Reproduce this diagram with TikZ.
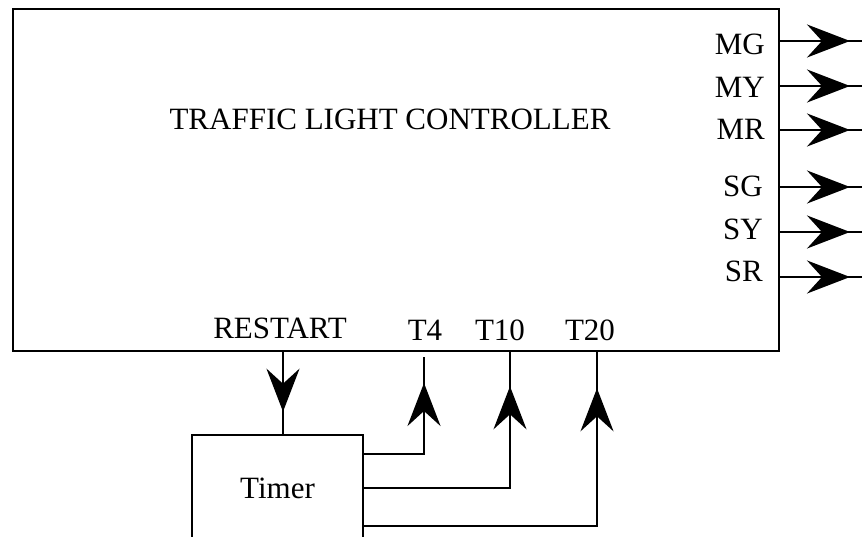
\documentclass[tikz,border=0pt]{standalone}
\usepackage{fontspec}
\setmainfont{Liberation Serif}
\usetikzlibrary{arrows.meta,decorations.markings,positioning}

\begin{document}
\begin{tikzpicture}[
    x=1pt, y=-1pt,
    % Estilo para blocos
    blockbox/.style={
        rectangle,
        draw,
        line width=2.6pt,
        inner sep=0pt
    },
    % Estilo para rotulos
    sigtext/.style={
        font=\fontsize{31}{36}\selectfont,
        inner sep=0pt
    },
    % Estilo para fios com seta no meio
    wire/.style={
        line width=2.6pt
    },
    tipat/.style={
        wire,
        postaction={decorate},
        decoration={markings,
            mark=at position #1 with {\arrow{Stealth[length=43pt,width=33pt,inset=15pt]}}}
    }
]

% ============================================================================
% Area do desenho
% ============================================================================
\useasboundingbox (0,0) rectangle (862,537);
\clip (0,0) rectangle (862,537);

% ============================================================================
% Controlador
% ============================================================================

\node[blockbox, minimum width=766pt, minimum height=342pt] (ctrl) at (396,180) {};
\node[sigtext, anchor=base] (title) at (390,130) {TRAFFIC LIGHT CONTROLLER};

% Saidas
\node[sigtext, anchor=base east] (mg) at (765,55) {MG};
\node[sigtext, anchor=base east] (my) at (765,98) {MY};
\node[sigtext, anchor=base east] (mr) at (765,140) {MR};
\node[sigtext, anchor=base east] (sg) at (763,197) {SG};
\node[sigtext, anchor=base east] (sy) at (763,240) {SY};
\node[sigtext, anchor=base east] (sr) at (763,282) {SR};

% Entradas
\node[sigtext, anchor=base] (restart) at (280,338) {RESTART};
\node[sigtext, anchor=base] (t4) at (425,340) {T4};
\node[sigtext, anchor=base] (t10) at (500,340) {T10};
\node[sigtext, anchor=base] (t20) at (590,340) {T20};

% ============================================================================
% Timer
% ============================================================================

\node[blockbox, minimum width=171pt, minimum height=106pt, sigtext] (timer) at (277.5,488) {Timer};

% ============================================================================
% Setas de conexao
% ============================================================================

% Saidas do controlador
\coordinate (mgend) at (862,41);
\coordinate (myend) at (862,86);
\coordinate (mrend) at (862,130);
\coordinate (sgend) at (862,187);
\coordinate (syend) at (862,232);
\coordinate (srend) at (862,277);

\foreach \s in {mg,my,mr,sg,sy,sr}
    \draw[tipat=-12pt] (ctrl.east |- \s end) -- (\s end);

% Controlador para Timer
\draw[tipat=-22pt] (ctrl.south -| 283,0) -- (timer.north -| 283,0);

% Timer para controlador
\coordinate (t4top) at (424,357);
\draw[tipat=-26pt] (timer.east |- 0,454) -| (t4top);
\draw[tipat=-34pt] (timer.east |- 0,488) -| (ctrl.south -| 510,0);
\draw[tipat=-36pt] (timer.east |- 0,526) -| (ctrl.south -| 597,0);

\end{tikzpicture}
\end{document}
